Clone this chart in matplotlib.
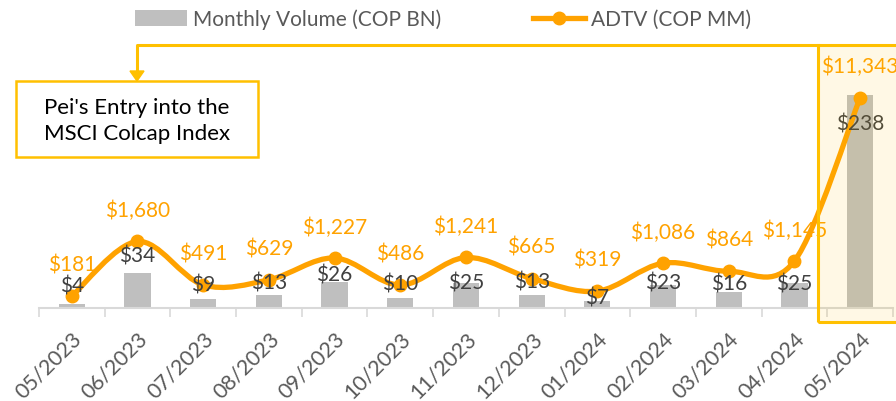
import numpy as np
import matplotlib
matplotlib.use("Agg")
import matplotlib.pyplot as plt
from matplotlib.path import Path
from matplotlib.patches import PathPatch, Rectangle, Polygon, Patch
from matplotlib.lines import Line2D

months = ["05/2023", "06/2023", "07/2023", "08/2023", "09/2023", "10/2023", "11/2023",
          "12/2023", "01/2024", "02/2024", "03/2024", "04/2024", "05/2024"]
volume = [4, 34, 9, 13, 26, 10, 25, 13, 7, 23, 16, 25, 238]
adtv = [181, 1680, 491, 629, 1227, 486, 1241, 665, 319, 1086, 864, 1145, 11343]

# vertical offsets (px) of the volume labels from the bar tops
vol_label_dy = [19, 18, 15, 12, 7, 15, 0, 13, 4, 2, 8, -1, -28]

W, H = 896, 402
ORANGE = "#FFA200"
GOLD = "#FFC000"
BAR = "#BFBFBF"
plt.rcParams["font.family"] = ["Lato", "DejaVu Sans"]


def broken(t, k):
    # linear up to t, compressed above (the top month is far off scale)
    fwd = lambda v: np.where(v <= t, v, t + (v - t) * k)
    inv = lambda s: np.where(s <= t, s, t + (s - t) / k)
    return fwd, inv


fig = plt.figure(figsize=(W / 100, H / 100), dpi=100)
ax = fig.add_axes([38.9 / W, (H - 309.3) / H, (893 - 38.9) / W, 269.3 / H])
x = np.arange(len(months))

vf, vi = broken(40, 0.842)
ax.set_yscale("function", functions=(vf, vi))
ax.bar(x, volume, width=0.4, color=BAR, zorder=2)
ax.set_ylim(0, float(vi(261.5)))
ax.set_xlim(-0.5, len(months) - 0.5)

for s in ["top", "left", "right"]:
    ax.spines[s].set_visible(False)
ax.spines["bottom"].set_color("#D9D9D9")
ax.spines["bottom"].set_linewidth(1.5)
ax.set_yticks([])
ax.set_xticks(x)
ax.set_xticklabels(months, rotation=45, ha="right", va="top", rotation_mode="anchor",
                   fontsize=15.5, color="#595959")
ax.tick_params(axis="x", which="major", length=0, pad=14)
ax.set_xticks(np.arange(-0.5, len(months)), minor=True)
ax.tick_params(axis="x", which="minor", length=6.5, width=1.2, color="#D9D9D9", direction="out")
ax.yaxis.set_minor_locator(plt.NullLocator())

# ADTV on its own axis
ax2 = ax.twinx()
af, ai = broken(2000, 0.3873)
ax2.set_yscale("function", functions=(af, ai))
ax2.set_ylim(-151, float(ai(7227)))
ax2.set_yticks([])
ax2.yaxis.set_minor_locator(plt.NullLocator())
for s in ax2.spines.values():
    s.set_visible(False)

# smoothed line (Catmull-Rom style bezier, like Excel's smooth line)
ys = af(np.array(adtv, dtype=float))
pts = np.column_stack([x, ys])
verts = [pts[0]]
codes = [Path.MOVETO]
n = len(pts)
for i in range(n - 1):
    p0 = pts[max(i - 1, 0)]
    p1 = pts[i]
    p2 = pts[i + 1]
    p3 = pts[min(i + 2, n - 1)]
    c1 = p1 + (p2 - p0) / 6
    c2 = p2 - (p3 - p1) / 6
    verts += [c1, c2, p2]
    codes += [Path.CURVE4] * 3
verts = np.array(verts)
verts[:, 1] = ai(verts[:, 1])
ax2.add_patch(PathPatch(Path(verts, codes), facecolor="none", edgecolor=ORANGE,
                        lw=3.8, capstyle="round", joinstyle="round", zorder=3))
ax2.plot(x, adtv, "o", color=ORANGE, ms=9, zorder=4)

# data labels sit above both series
for xi, v in zip(x, adtv):
    ax2.annotate(f"${v:,}", (xi, v), xytext=(0, 22.7), textcoords="offset points",
                 ha="center", va="center", fontsize=15, color=ORANGE, zorder=5)
for xi, v, dy in zip(x, volume, vol_label_dy):
    ax2.annotate(f"${v:,}", (xi, v), xycoords=ax.transData, xytext=(0, dy * 0.72),
                 textcoords="offset points", ha="center", va="center", fontsize=15,
                 color="#404040", zorder=6)

# legend
handles = [Patch(facecolor=BAR, edgecolor="none"),
           Line2D([], [], color=ORANGE, lw=3.8, marker="o", ms=9)]
fig.legend(handles, ["Monthly Volume (COP BN)", "ADTV (COP MM)"], loc="center",
           bbox_to_anchor=(443 / W, 1 - 20 / H), ncol=2, frameon=False, fontsize=15,
           labelcolor="#595959", handlelength=2.5, handleheight=0.75, handletextpad=0.3,
           columnspacing=4.4)

# highlight of the last month and the callout
def fx(px):
    return px / W


def fy(py):
    return 1 - py / H


fig.add_artist(Rectangle((fx(818), fy(323)), fx(80), (323 - 46) / H, facecolor=GOLD,
                         alpha=0.1, edgecolor="none", zorder=10))
fig.add_artist(Rectangle((fx(818), fy(323)), fx(80), (323 - 46) / H, facecolor="none",
                         edgecolor=GOLD, lw=2.2, zorder=10))
fig.add_artist(Line2D([fx(818), fx(137), fx(137)], [fy(46), fy(46), fy(74)], color=GOLD,
                      lw=2.2, zorder=10))
fig.add_artist(Polygon([[fx(130), fy(72)], [fx(144), fy(72)], [fx(137), fy(82)]],
                       closed=True, color=GOLD, zorder=10))
fig.add_artist(Rectangle((fx(16), fy(158)), fx(242), (158 - 82) / H, facecolor="white",
                         edgecolor=GOLD, lw=1.8, zorder=10))
fig.text(fx(137), fy(121), "Pei's Entry into the\nMSCI Colcap Index", ha="center",
         va="center", fontsize=16, color="black", linespacing=1.35, zorder=11)

fig.savefig("out.png", dpi=100)
